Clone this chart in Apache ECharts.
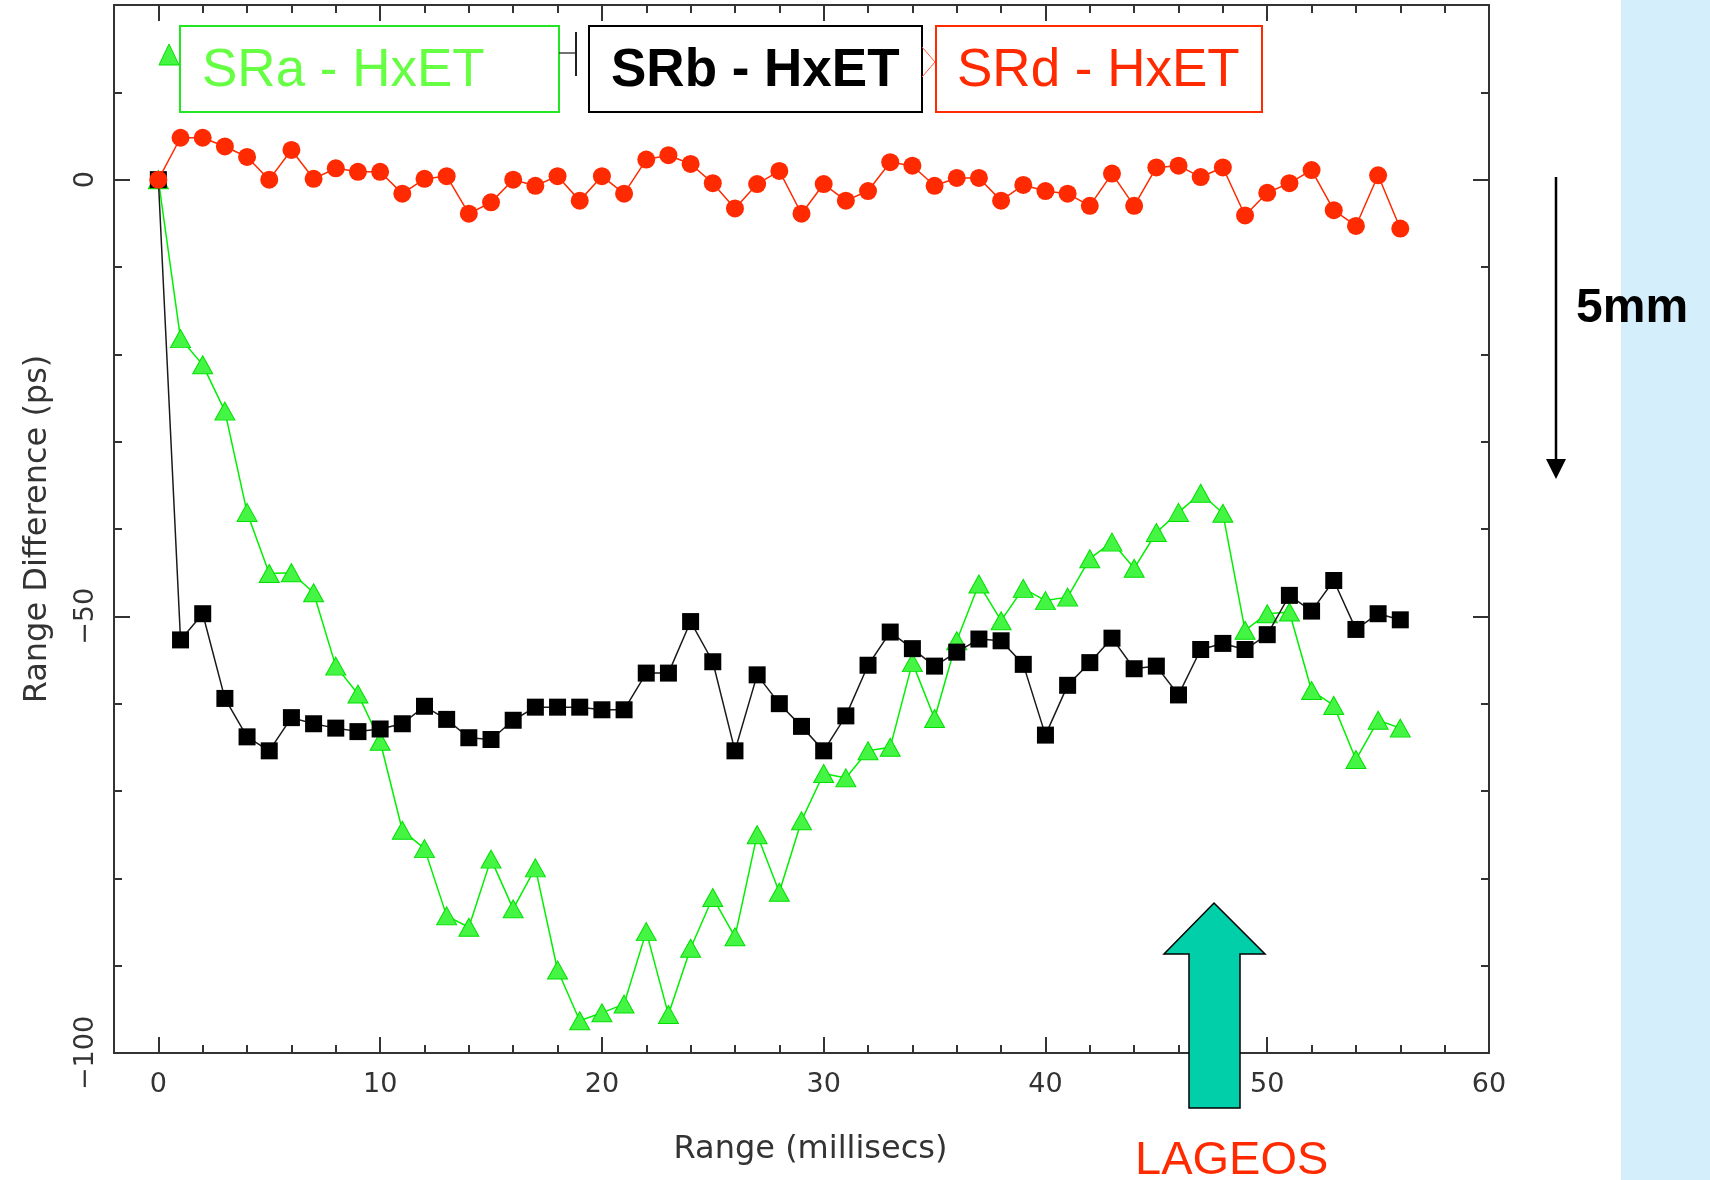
<!DOCTYPE html>
<html>
<head>
<meta charset="utf-8">
<script src="https://cdn.jsdelivr.net/npm/echarts@6/dist/echarts.min.js"></script>
<style>
html, body { margin: 0; padding: 0; background: #fff; }
#chart { width: 1710px; height: 1180px; }
</style>
</head>
<body>
<div id="chart"></div>
<script>
'use strict';

// range (millisecs), one point per ms
var ranges = [0, 1, 2, 3, 4, 5, 6, 7, 8, 9, 10, 11, 12, 13, 14, 15, 16, 17, 18, 19,
    20, 21, 22, 23, 24, 25, 26, 27, 28, 29, 30, 31, 32, 33, 34, 35, 36, 37, 38, 39,
    40, 41, 42, 43, 44, 45, 46, 47, 48, 49, 50, 51, 52, 53, 54, 55, 56];

// range difference (ps)
var sraDiff = [0, -18.2, -21.2, -26.5, -38.1, -45.1, -45.0, -47.3, -55.7, -58.9,
    -64.3, -74.5, -76.6, -84.3, -85.6, -77.8, -83.5, -78.8, -90.5, -96.3,
    -95.4, -94.4, -86.1, -95.6, -88.0, -82.2, -86.7, -75.0, -81.6, -73.4,
    -68.0, -68.5, -65.4, -65.0, -55.3, -61.7, -52.8, -46.3, -50.5, -46.8,
    -48.2, -47.8, -43.4, -41.5, -44.5, -40.4, -38.1, -35.9, -38.2, -51.6,
    -49.7, -49.5, -58.5, -60.2, -66.4, -61.9, -62.8];
var srbDiff = [0, -52.7, -49.7, -59.4, -63.8, -65.4, -61.6, -62.3, -62.8, -63.2,
    -62.9, -62.3, -60.3, -61.8, -63.9, -64.1, -61.9, -60.4, -60.4, -60.4,
    -60.7, -60.7, -56.5, -56.5, -50.6, -55.2, -65.4, -56.7, -60.0, -62.6,
    -65.4, -61.4, -55.6, -51.8, -53.7, -55.7, -54.1, -52.6, -52.8, -55.5,
    -63.6, -57.9, -55.3, -52.5, -56.0, -55.7, -59.0, -53.8, -53.1, -53.8,
    -52.1, -47.6, -49.4, -45.9, -51.5, -49.7, -50.4];
var srdDiff = [0, 4.8, 4.8, 3.8, 2.6, 0.0, 3.4, 0.1, 1.3, 0.9,
    0.9, -1.6, 0.1, 0.4, -3.9, -2.6, 0.0, -0.7, 0.4, -2.4,
    0.4, -1.6, 2.3, 2.8, 1.8, -0.4, -3.3, -0.5, 1.0, -3.9,
    -0.5, -2.4, -1.3, 2.0, 1.6, -0.7, 0.2, 0.2, -2.4, -0.6,
    -1.3, -1.6, -3.0, 0.7, -3.0, 1.4, 1.6, 0.3, 1.4, -4.1,
    -1.5, -0.4, 1.1, -3.5, -5.3, 0.5, -5.6];

var xMajorTicks = [0, 10, 20, 30, 40, 50, 60];
var xMinorTicks = [2, 4, 6, 8, 12, 14, 16, 18, 22, 24, 26, 28, 32, 34, 36, 38,
    42, 44, 46, 48, 52, 54, 56, 58];
var yMajorTicks = [-100, -50, 0];
var yMinorTicks = [-90, -80, -70, -60, -40, -30, -20, -10, 10];

var axisColor = '#333';
var textFont = 'DejaVu Sans';
var red = '#ff2a00';

function pairs(xs, ys) {
    return xs.map(function (x, i) { return [x, ys[i]]; });
}

function makeAxis(dim, position, ticks, len, extra) {
    var ax = {
        type: 'value',
        position: position,
        min: dim === 'x' ? -2 : -100,
        max: dim === 'x' ? 60 : 20,
        axisLine: { show: true, onZero: false, lineStyle: { color: axisColor, width: 2 } },
        axisTick: { show: true, inside: true, length: len, customValues: ticks,
            lineStyle: { color: axisColor, width: 2 } },
        axisLabel: { show: false },
        splitLine: { show: false }
    };
    return Object.assign(ax, extra || {});
}

var chart = echarts.init(document.getElementById('chart'));

var option = {
    animation: false,
    backgroundColor: '#fff',
    grid: { left: 114, right: 221, top: 5, bottom: 127, outerBoundsMode: 'none' },
    xAxis: [
        makeAxis('x', 'bottom', xMajorTicks, 16, {
            name: 'Range (millisecs)',
            nameLocation: 'middle',
            nameGap: 81,
            nameTextStyle: { fontFamily: textFont, fontSize: 32, color: axisColor, padding: [0, 0, 0, 18] },
            axisLabel: { show: true, customValues: xMajorTicks, margin: 18,
                fontFamily: textFont, fontSize: 27, color: axisColor }
        }),
        makeAxis('x', 'bottom', xMinorTicks, 8),
        makeAxis('x', 'top', xMajorTicks, 16),
        makeAxis('x', 'top', xMinorTicks, 8)
    ],
    yAxis: [
        makeAxis('y', 'left', yMajorTicks, 16, {
            name: 'Range Difference (ps)',
            nameLocation: 'middle',
            nameGap: 60,
            nameTextStyle: { fontFamily: textFont, fontSize: 32, color: axisColor },
            axisLabel: { show: true, customValues: yMajorTicks, margin: 15, rotate: 90,
                fontFamily: textFont, fontSize: 27, color: axisColor,
                formatter: function (v) { return String(v).replace('-', '\u2212'); } }
        }),
        makeAxis('y', 'left', yMinorTicks, 8),
        makeAxis('y', 'right', yMajorTicks, 16),
        makeAxis('y', 'right', yMinorTicks, 8)
    ],
    series: [
        {
            name: 'SRa - HxET',
            type: 'line',
            data: pairs(ranges, sraDiff),
            symbol: 'triangle',
            symbolSize: [20, 18],
            lineStyle: { color: '#00f000', width: 1.5 },
            itemStyle: { color: '#44f544', borderColor: '#00e000', borderWidth: 1 },
            z: 2
        },
        {
            name: 'SRb - HxET',
            type: 'line',
            data: pairs(ranges, srbDiff),
            symbol: 'rect',
            symbolSize: 17,
            lineStyle: { color: '#1a1a1a', width: 1.5 },
            itemStyle: { color: '#000' },
            z: 3
        },
        {
            name: 'SRd - HxET',
            type: 'line',
            data: pairs(ranges, srdDiff),
            symbol: 'circle',
            symbolSize: 18,
            lineStyle: { color: red, width: 1.5 },
            itemStyle: { color: red },
            z: 4
        }
    ],
    graphic: [
        // light blue strip at the right edge
        { type: 'rect', z: 1, shape: { x: 1621, y: 0, width: 89, height: 1180 }, style: { fill: '#d4eefb' } },

        // legend boxes pasted over the plot
        { type: 'polygon', z: 100, shape: { points: [[159, 65], [169, 44], [179, 65]] },
            style: { fill: '#44f544', stroke: '#00e000', lineWidth: 1 } },
        { type: 'rect', z: 100, shape: { x: 180, y: 26, width: 379, height: 86 },
            style: { fill: '#fff', stroke: '#22e622', lineWidth: 2 } },
        { type: 'text', z: 101, style: { x: 202, y: 71, text: 'SRa - HxET', fill: '#66ff44',
            font: '53px "Liberation Sans", Arial, sans-serif', verticalAlign: 'middle' } },
        { type: 'polyline', z: 100, shape: { points: [[559, 53], [576, 53]] },
            style: { stroke: '#444', lineWidth: 1.5 } },
        { type: 'polyline', z: 100, shape: { points: [[576, 32], [576, 76]] },
            style: { stroke: '#222', lineWidth: 2 } },
        { type: 'rect', z: 100, shape: { x: 589, y: 26, width: 333, height: 86 },
            style: { fill: '#fff', stroke: '#000', lineWidth: 2 } },
        { type: 'text', z: 101, style: { x: 611, y: 71, text: 'SRb - HxET', fill: '#000',
            font: 'bold 53px "Liberation Sans", Arial, sans-serif', verticalAlign: 'middle' } },
        { type: 'polyline', z: 100, shape: { points: [[922, 47], [935, 62], [922, 77]] },
            style: { stroke: '#ff5a3a', lineWidth: 1 } },
        { type: 'rect', z: 100, shape: { x: 936, y: 26, width: 326, height: 86 },
            style: { fill: '#fff', stroke: red, lineWidth: 2 } },
        { type: 'text', z: 101, style: { x: 957, y: 71, text: 'SRd - HxET', fill: red,
            font: '53px "Liberation Sans", Arial, sans-serif', verticalAlign: 'middle' } },

        // 5mm scale arrow
        { type: 'polyline', z: 100, shape: { points: [[1556, 177], [1556, 462]] },
            style: { stroke: '#000', lineWidth: 2.5 } },
        { type: 'polygon', z: 100, shape: { points: [[1546, 459], [1566, 459], [1556, 479]] },
            style: { fill: '#000' } },
        { type: 'text', z: 101, style: { x: 1576, y: 309, text: '5mm', fill: '#000',
            font: 'bold 48px "Liberation Sans", Arial, sans-serif', verticalAlign: 'middle' } },

        // LAGEOS marker arrow
        { type: 'polygon', z: 100, shape: { points: [[1214, 903], [1265, 954], [1240, 954],
            [1240, 1108], [1189, 1108], [1189, 954], [1164, 954]] },
            style: { fill: '#00cfaa', stroke: '#000', lineWidth: 1.5 } },
        { type: 'text', z: 101, style: { x: 1135, y: 1161, text: 'LAGEOS', fill: red,
            font: '47px "Liberation Sans", Arial, sans-serif', verticalAlign: 'middle' } }
    ]
};

chart.setOption(option);
</script>
</body>
</html>
